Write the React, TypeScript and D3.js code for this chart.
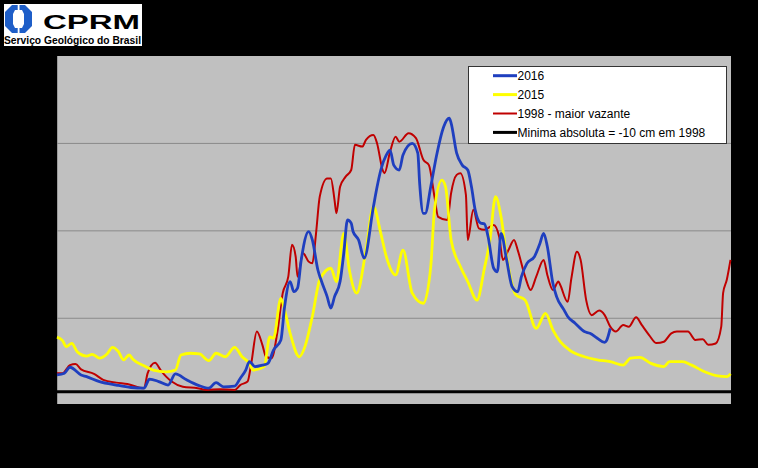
import React from "react";
import * as d3 from "d3";

// Series: [day of year, level (cm)]
const serie2016: [number, number][] = [
  [1, 38], [5, 43], [8, 60], [14, 38], [17, 33], [24, 19], [33, 9], [41, 2], [48, 0],
  [51, 26], [56, 19], [61, 9], [65, 41], [71, 24], [77, 9], [83, 0], [87, 16], [91, 4],
  [97, 6], [100, 28], [103, 52], [105, 76], [108, 62], [112, 66], [115, 71], [118, 109],
  [122, 138], [124, 233], [127, 305], [129, 276], [131, 286], [133, 367], [137, 448],
  [139, 424], [142, 338], [144, 305], [147, 262], [149, 229], [151, 262], [154, 305],
  [156, 386], [158, 481], [160, 472], [161, 448], [164, 424], [167, 372], [172, 519],
  [174, 576], [176, 624], [179, 667], [181, 681], [183, 638], [186, 624], [188, 667],
  [193, 700], [196, 672], [197, 586], [199, 500], [200, 500], [203, 576], [206, 662],
  [210, 748], [213, 772], [214, 758], [217, 672], [220, 638], [223, 624], [225, 576],
  [227, 510], [230, 472], [232, 470], [234, 433], [237, 343], [239, 333], [241, 443],
  [244, 367], [247, 290], [250, 276], [252, 319], [255, 357], [259, 376], [262, 414],
  [264, 443], [266, 405], [269, 300], [271, 262], [275, 224], [277, 205], [281, 186],
  [286, 162], [289, 157], [293, 143], [297, 131], [298, 136], [300, 171],
];

const serie2015: [number, number][] = [
  [1, 146], [4, 136], [6, 119], [9, 128], [12, 104], [17, 92], [20, 97], [24, 86],
  [28, 98], [31, 117], [34, 106], [37, 81], [40, 95], [42, 83], [48, 64], [53, 52],
  [60, 47], [65, 52], [68, 95], [73, 100], [78, 98], [83, 79], [87, 100], [92, 90],
  [97, 117], [101, 90], [105, 71], [107, 52], [113, 62], [116, 147], [118, 143],
  [122, 257], [124, 224], [127, 157], [132, 90], [135, 119], [139, 205], [143, 310],
  [149, 343], [152, 305], [156, 443], [159, 338], [163, 272], [168, 395], [172, 519],
  [176, 443], [179, 376], [184, 324], [188, 395], [193, 272], [199, 243], [203, 348],
  [205, 510], [209, 595], [211, 576], [214, 424], [219, 348], [223, 305], [228, 252],
  [232, 343], [235, 424], [238, 548], [241, 490], [244, 376], [249, 267], [254, 252],
  [260, 171], [265, 214], [269, 167], [273, 133], [278, 109], [286, 90], [293, 81],
  [300, 76], [307, 66], [311, 86], [316, 88], [322, 71], [329, 62], [332, 76],
  [339, 76], [344, 66], [351, 47], [358, 35], [363, 33], [365, 41],
];

const serie1998: [number, number][] = [
  [1, 43], [4, 43], [8, 66], [11, 69], [14, 54], [21, 41], [26, 24], [33, 16], [39, 12],
  [48, 0], [50, 43], [54, 73], [57, 52], [60, 33], [63, 19], [69, 4], [77, 0], [82, -5],
  [89, -3], [97, -5], [100, 9], [104, 19], [106, 71], [109, 162], [112, 124], [114, 90],
  [117, 86], [120, 157], [123, 272], [126, 319], [128, 410], [130, 376], [131, 319],
  [134, 386], [137, 362], [139, 357], [141, 443], [143, 548], [147, 600], [149, 600],
  [151, 538], [152, 500], [154, 576], [157, 605], [160, 624], [162, 696], [166, 691],
  [168, 710], [172, 724], [174, 700], [177, 624], [178, 615], [181, 676], [184, 719],
  [186, 705], [191, 729], [195, 715], [199, 653], [202, 638], [205, 548], [207, 490],
  [212, 481], [214, 558], [217, 610], [219, 615], [222, 553], [223, 424], [226, 510],
  [229, 457], [232, 453], [237, 467], [240, 433], [242, 367], [245, 395], [248, 424],
  [250, 395], [254, 319], [257, 281], [260, 319], [264, 367], [266, 324], [269, 281],
  [272, 305], [273, 295], [277, 247], [279, 314], [282, 390], [284, 367], [287, 252],
  [290, 209], [294, 222], [297, 209], [300, 176], [303, 162], [307, 181], [310, 176],
  [314, 203], [317, 181], [321, 152], [325, 129], [329, 133], [333, 157], [336, 162],
  [342, 162], [346, 138], [350, 140], [353, 124], [357, 128], [360, 176], [361, 272],
  [363, 310], [365, 367],
];

const minimaAbsoluta = -10;
const gridValues = [200, 450, 700];
const legendLabels = ["2016", "2015", "1998 - maior vazante", "Minima absoluta = -10 cm em 1998"];
const legendColors = ["#1F3FBF", "#FFFF00", "#C00000", "#000000"];

export default function App() {
  const W = 758, H = 468;
  const x = d3.scaleLinear().domain([1, 365]).range([57, 730.5]);
  const y = d3.scaleLinear().domain([-50, 950]).range([405.7, 56]);
  const line = d3
    .line<[number, number]>()
    .x((d) => x(d[0]))
    .y((d) => y(d[1]))
    .curve(d3.curveMonotoneX);

  return (
    <svg
      width={W}
      height={H}
      style={{ position: "fixed", left: 0, top: 0, background: "#000" }}
      fontFamily="Arial, 'Liberation Sans', sans-serif"
    >
      <rect x={0} y={0} width={W} height={H} fill="#000" />
      {/* Logo */}
      <rect x={4} y={4} width={138} height={42} fill="#fff" />
      <polygon points="12,5 25,5 32,12 32,26 25,33 12,33 5,26 5,12" fill="#1E5EC8" />
      <polygon points="15,10 22,10 24,14 24,24 22,28 15,28 13,24 13,14" fill="#fff" />
      <rect x={17.7} y={4} width={1.8} height={7} fill="#fff" />
      <rect x={17.7} y={27} width={1.8} height={7} fill="#fff" />
      <text x={43} y={29} fontSize={21} fontWeight="bold" textLength={97} lengthAdjust="spacingAndGlyphs" fill="#000">
        CPRM
      </text>
      <text x={4} y={43.5} fontSize={10} fontWeight="bold" textLength={137} lengthAdjust="spacingAndGlyphs" fill="#000">
        Serviço Geológico do Brasil
      </text>

      {/* Plot area */}
      <rect x={57} y={56} width={674} height={348} fill="#C0C0C0" />
      <line x1={57.5} x2={57.5} y1={56} y2={404} stroke="#9a9a9a" strokeWidth={1} />
      {gridValues.map((g) => (
        <line key={g} x1={57} x2={731} y1={y(g)} y2={y(g)} stroke="#8a8a8a" strokeWidth={1} />
      ))}
      <line x1={57} x2={731} y1={y(minimaAbsoluta)} y2={y(minimaAbsoluta)} stroke="#000" strokeWidth={3} />

      <path d={line(serie1998) || ""} fill="none" stroke={legendColors[2]} strokeWidth={2} strokeLinejoin="round" />
      <path d={line(serie2015) || ""} fill="none" stroke={legendColors[1]} strokeWidth={2.8} strokeLinejoin="round" />
      <path d={line(serie2016) || ""} fill="none" stroke={legendColors[0]} strokeWidth={2.8} strokeLinejoin="round" />

      {/* Legend */}
      <rect x={468.5} y={66.5} width={258} height={77} fill="#fff" stroke="#333" strokeWidth={1} />
      {legendLabels.map((lab, i) => {
        const yy = 75.7 + i * 18.9;
        return (
          <g key={lab}>
            <line x1={493} x2={517} y1={yy} y2={yy} stroke={legendColors[i]} strokeWidth={i === 2 ? 2 : 3} />
            <text x={517.5} y={yy} dy="0.35em" fontSize={12} fill="#000">
              {lab}
            </text>
          </g>
        );
      })}
    </svg>
  );
}
